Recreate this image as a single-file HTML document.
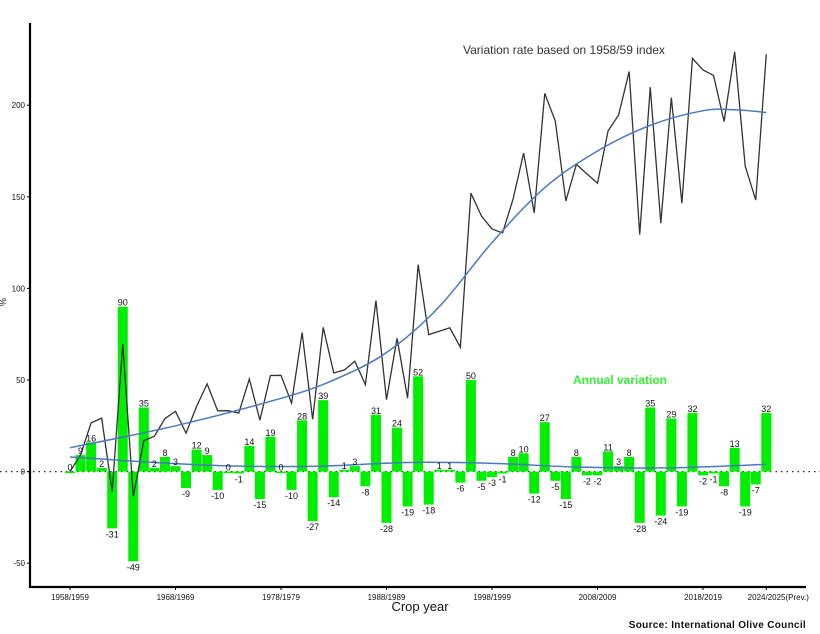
<!DOCTYPE html>
<html><head><meta charset="utf-8"><style>
html,body{margin:0;padding:0;background:#fff;}
svg{display:block;font-family:"Liberation Sans",Arial,sans-serif;}
</style></head><body>
<svg id="s" width="820" height="634" viewBox="0 0 820 634" xmlns="http://www.w3.org/2000/svg"></svg>
<script>
const s=document.getElementById('s');
const V=[0,9,16,2,-31,90,-49,35,2,8,3,-9,12,9,-10,0,-1,14,-15,19,0,-10,28,-27,39,-14,1,3,-8,31,-28,24,-19,52,-18,1,1,-6,50,-5,-3,-1,8,10,-12,27,-5,-15,8,-2,-2,11,3,8,-28,35,-24,29,-19,32,-2,-1,-8,13,-19,-7,32];
const X=i=>70+10.55*i;
const Y=v=>471.6-v*1.832;
let h='';
h+=`<line x1="0" y1="471.6" x2="820" y2="471.6" stroke="#222" stroke-width="1.3" stroke-dasharray="1.5,4"/>`;
V.forEach((v,i)=>{const x=X(i);const y0=Y(0),y1=Y(v);
 h+=`<rect x="${x-5}" y="${Math.min(y0,y1)}" width="10" height="${Math.max(Math.abs(y1-y0),1.5)}" fill="#00ee00"/>`;});
let c=1,pts=[];
V.forEach((v,i)=>{c*=(1+v/100);const cc=c*(1+0.0006*i);pts.push([X(i),Y(i==0?0:(cc-1)*100)]);});
h+=`<polyline points="${pts.map(p=>p.join(',')).join(' ')}" fill="none" stroke="#333" stroke-width="1.3"/>`;
function smooth(arr){let d=`M${X(arr[0][0])},${Y(arr[0][1])}`;const P=arr.map(a=>[X(a[0]),Y(a[1])]);
 for(let i=0;i<P.length-1;i++){const p0=P[Math.max(0,i-1)],p1=P[i],p2=P[i+1],p3=P[Math.min(P.length-1,i+2)];
 d+=` C${p1[0]+(p2[0]-p0[0])/6},${p1[1]+(p2[1]-p0[1])/6} ${p2[0]-(p3[0]-p1[0])/6},${p2[1]-(p3[1]-p1[1])/6} ${p2[0]},${p2[1]}`;}return d;}
const T1=[[0,13],[10,25],[20,40],[25,50],[30,65],[35,90],[40,125],[45,155],[50,175],[55,189],[60,197],[63,197.5],[66,196]];
const T2=[[0,8],[8,5],[16,3],[24,3],[32,5],[40,4.5],[48,2.5],[56,2],[62,3],[66,4]];
h+=`<path d="${smooth(T1)}" fill="none" stroke="#4a78c0" stroke-width="1.5"/>`;
h+=`<path d="${smooth(T2)}" fill="none" stroke="#4a78c0" stroke-width="1.5"/>`;
V.forEach((v,i)=>{const x=X(i);const y=v>=0?Y(v)-1:Y(v)+9;
 h+=`<text x="${x}" y="${y}" font-size="9" text-anchor="middle" fill="#111">${v}</text>`;});
h+=`<line x1="30" y1="23" x2="30" y2="588" stroke="#000" stroke-width="2.2"/>`;
h+=`<line x1="29" y1="587" x2="806" y2="587" stroke="#000" stroke-width="2.2"/>`;
[200,150,100,50,0,-50].forEach(v=>{h+=`<line x1="27" y1="${Y(v)}" x2="30" y2="${Y(v)}" stroke="#000"/><text x="25" y="${Y(v)+3}" font-size="8" text-anchor="end" fill="#111">${v}</text>`;});
const L=[[0,'1958/1959'],[10,'1968/1969'],[20,'1978/1979'],[30,'1988/1989'],[40,'1998/1999'],[50,'2008/2009'],[60,'2018/2019']];
L.forEach(([i,t])=>{h+=`<line x1="${X(i)}" y1="587" x2="${X(i)}" y2="590" stroke="#000"/><text x="${X(i)}" y="600" font-size="8" text-anchor="middle" fill="#111">${t}</text>`;});
h+=`<line x1="${X(66)}" y1="587" x2="${X(66)}" y2="590" stroke="#000"/><text x="${X(66)+12}" y="600" font-size="8" text-anchor="middle" fill="#111">2024/2025(Prev.)</text>`;
h+=`<text x="420" y="611" font-size="13" text-anchor="middle" fill="#111">Crop year</text>`;
h+=`<text x="806" y="628" font-size="10" font-weight="bold" text-anchor="end" fill="#111" letter-spacing="0.3">Source: International Olive Council</text>`;
h+=`<text x="6" y="302" font-size="9" text-anchor="middle" fill="#111" transform="rotate(-90 6 302)">%</text>`;
h+=`<text x="463" y="54" font-size="12" fill="#333">Variation rate based on 1958/59 index</text>`;
h+=`<text x="573" y="384" font-size="12" font-weight="bold" fill="#33ee33">Annual variation</text>`;
s.innerHTML=h;
</script>
</body></html>
